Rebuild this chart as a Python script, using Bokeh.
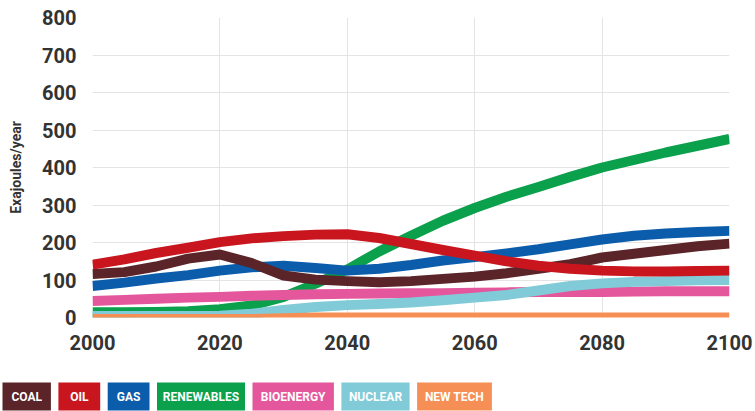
from bokeh.plotting import figure
from bokeh.models import FixedTicker, Range1d
from bokeh.core.properties import value
from bokeh.embed import file_html
from bokeh.resources import INLINE

# ---------------- data ----------------
years = list(range(2000, 2101, 5))
coal = [116, 121, 136, 157, 168, 145, 112, 101, 97, 94, 97, 103, 109, 118, 130, 142, 160, 170, 180, 190, 197]
oil = [141, 155, 172, 186, 201, 211, 217, 221, 222, 212, 196, 180, 165, 150, 138, 130, 125, 123, 123, 124, 125]
gas = [84, 93, 104, 113, 125, 134, 138, 132, 125, 130, 140, 152, 161, 171, 182, 195, 208, 218, 224, 228, 231]
renewables = [14, 14, 15, 17, 22, 32, 55, 90, 128, 176, 218, 258, 292, 322, 348, 375, 400, 420, 440, 458, 476]
bioenergy = [44, 47, 50, 53, 55, 58, 60, 62, 63, 64, 65, 65, 66, 67, 68, 68, 68, 69, 70, 70, 70]
nuclear = [4, 4, 4, 4, 5, 10, 20, 28, 33, 36, 40, 46, 53, 60, 72, 84, 91, 95, 97, 99, 100]
newtech = [0, 0, 0, 0, 0, 0, 2, 4, 4, 4, 4, 4, 4, 4, 4, 4, 4, 4, 4, 4, 4]

series_names = ["COAL", "OIL", "GAS", "RENEWABLES", "BIOENERGY", "NUCLEAR", "NEW TECH"]
series_values = [coal, oil, gas, renewables, bioenergy, nuclear, newtech]
series_colors = ["#5a2429", "#c9161e", "#0b5dab", "#0aa04c", "#e4579d", "#80cbd7", "#f58f55"]

x_ticks = [2000, 2020, 2040, 2060, 2080, 2100]
y_ticks = [0, 100, 200, 300, 400, 500, 600, 700, 800]

# ---------------- main chart ----------------
p = figure(width=755, height=360, x_range=Range1d(2000, 2100), y_range=Range1d(0, 800),
           output_backend="svg", toolbar_location=None,
           min_border_left=92, min_border_right=26, min_border_top=17, min_border_bottom=43)
p.outline_line_color = None
p.background_fill_color = "white"
p.border_fill_color = "white"

p.xaxis.ticker = FixedTicker(ticks=x_ticks)
p.yaxis.ticker = FixedTicker(ticks=y_ticks)
p.xgrid.ticker = FixedTicker(ticks=x_ticks)
p.ygrid.ticker = FixedTicker(ticks=y_ticks)
p.grid.grid_line_color = "#e4e4e4"
p.grid.grid_line_width = 1

for ax in (p.xaxis, p.yaxis):
    ax.axis_line_color = None
    ax.major_tick_line_color = None
    ax.minor_tick_line_color = None
    ax.major_label_text_font = "Roboto"
    ax.major_label_text_font_style = "bold"
    ax.major_label_text_font_size = "20px"
    ax.major_label_text_color = "#333333"

p.xaxis.major_label_standoff = 11
p.yaxis.major_label_standoff = 10
p.yaxis.axis_label = "Exajoules/year"
p.yaxis.axis_label_text_font = "Roboto"
p.yaxis.axis_label_text_font_style = "bold"
p.yaxis.axis_label_text_font_size = "14px"
p.yaxis.axis_label_text_color = "#333333"
p.yaxis.axis_label_standoff = 15

draw_order = ["RENEWABLES", "BIOENERGY", "NUCLEAR", "NEW TECH", "GAS", "COAL", "OIL"]
for name in draw_order:
    i = series_names.index(name)
    p.line(years, series_values[i], line_color=series_colors[i],
           line_width=7 if name == "NEW TECH" else 10,
           line_join="round", line_cap="butt")

# ---------------- legend strip ----------------
leg = figure(width=755, height=51, x_range=Range1d(0, 755), y_range=Range1d(0, 51),
             output_backend="svg", toolbar_location=None, min_border=0)
leg.axis.visible = False
leg.grid.visible = False
leg.outline_line_color = None

centers, widths = [], []
x = 2
for name in series_names:
    w = 6.6 * len(name) + 22
    centers.append(x + w / 2)
    widths.append(w)
    x += w + 7.5

leg.rect(x=centers, y=15, width=widths, height=28, fill_color=series_colors, line_color=None)
leg.text(x=centers, y=[15] * len(centers), text=series_names, text_color="white",
         text_font=value("Roboto"), text_font_style="bold", text_font_size="12px",
         text_align="center", text_baseline="middle")

open("out.html", "w").write(file_html([p, leg], INLINE))
